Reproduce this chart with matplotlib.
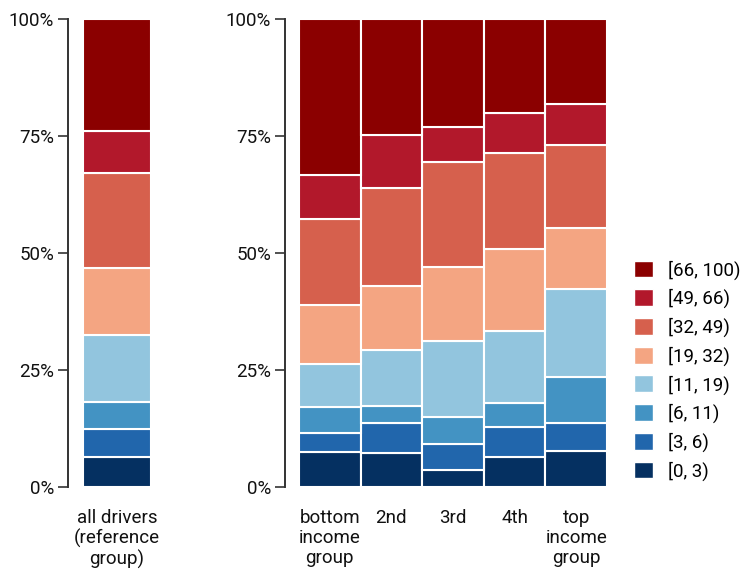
import matplotlib
matplotlib.use("Agg")
import matplotlib.pyplot as plt
from matplotlib.patches import Patch
import numpy as np

plt.rcParams['font.family'] = ['Roboto', 'DejaVu Sans']

# ================= DATA =================
bins = ["[0, 3)", "[3, 6)", "[6, 11)", "[11, 19)", "[19, 32)", "[32, 49)", "[49, 66)", "[66, 100)"]
colors = ["#053061", "#2166ac", "#4393c3", "#92c5de", "#f4a582", "#d6604d", "#b2182b", "#8b0000"]

ref_label = ["all drivers\n(reference\ngroup)"]
ref_share = [6.5, 5.8, 5.9, 14.2, 14.5, 20.1, 9.1, 23.9]

income_labels = ["bottom\nincome\ngroup", "2nd", "3rd", "4th", "top\nincome\ngroup"]
bottom_grp = [7.4, 4.2, 5.6, 9.1, 12.5, 18.5, 9.4, 33.3]
second_grp = [7.3, 6.3, 3.8, 11.8, 13.7, 21.0, 11.3, 24.8]
third_grp = [3.6, 5.6, 5.8, 16.2, 15.8, 22.5, 7.5, 23.0]
fourth_grp = [6.5, 6.4, 5.0, 15.4, 17.6, 20.5, 8.5, 20.1]
top_grp = [7.7, 5.9, 10.0, 18.7, 13.1, 17.7, 8.7, 18.2]


def stacked(ax, labels, groups, pad):
    data = np.array(groups, dtype=float)          # groups x bins
    data = data / data.sum(axis=1, keepdims=True) * 100
    x = np.arange(len(labels))
    bottom = np.zeros(len(labels))
    for i in range(len(bins)):
        ax.bar(x, data[:, i], width=1.0, bottom=bottom, color=colors[i],
               edgecolor="white", linewidth=1.5)
        bottom += data[:, i]
    ax.set_xlim(-0.5 - pad, len(labels) - 0.5 + pad)
    ax.set_ylim(0, 100)
    ax.set_xticks(x)
    ax.set_xticklabels(labels, fontsize=13.5, color="#111111", linespacing=1.12, va="top")
    ax.set_yticks([0, 25, 50, 75, 100])
    ax.set_yticklabels(["0%", "25%", "50%", "75%", "100%"], fontsize=13.5, color="#111111")
    ax.tick_params(axis="x", length=0, pad=16)
    ax.tick_params(axis="y", length=7, width=1.2, color="#333333", pad=3)
    for s in ["top", "right", "bottom"]:
        ax.spines[s].set_visible(False)
    ax.spines["left"].set_linewidth(1.4)
    ax.spines["left"].set_color("#333333")


fig = plt.figure(figsize=(7.43, 5.74), dpi=100)

ax1 = fig.add_axes([68 / 743, 87 / 574, 98 / 743, 468 / 574])
stacked(ax1, ref_label, [ref_share], 15 / 68)

ax2 = fig.add_axes([285 / 743, 87 / 574, 336 / 743, 468 / 574])
stacked(ax2, income_labels, [bottom_grp, second_grp, third_grp, fourth_grp, top_grp], 14 / 61.6)

handles = [Patch(facecolor=colors[i], edgecolor="white", label=bins[i]) for i in range(len(bins))][::-1]
fig.legend(handles=handles, loc="center left", bbox_to_anchor=(634 / 743, 1 - 370.5 / 574),
           frameon=False, fontsize=13.5, handlelength=1.0, handleheight=1.0,
           labelspacing=0.5, handletextpad=0.8, borderpad=0, borderaxespad=0)

fig.savefig("out.png", dpi=100)
